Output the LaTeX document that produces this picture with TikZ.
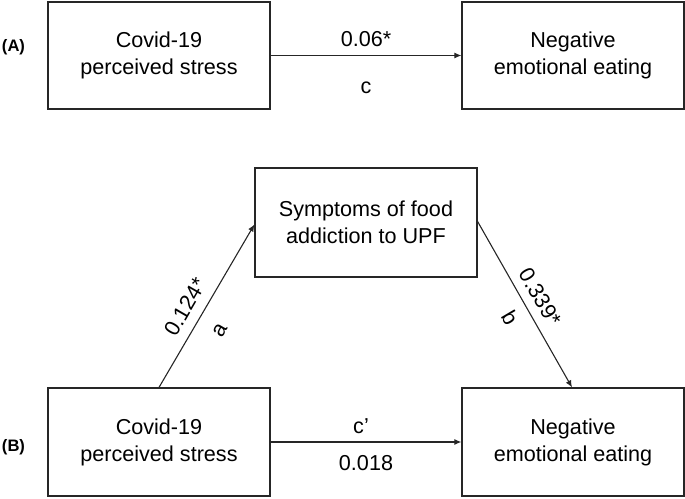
\documentclass[tikz,border=0pt]{standalone}
\usepackage{fontspec}
\setmainfont{Liberation Sans}
\usetikzlibrary{arrows.meta}
\begin{document}
\begin{tikzpicture}[x=1pt,y=-1pt,
  box/.style={draw=black!85, line width=1.2pt, minimum width=222pt, align=center, font=\fontsize{21.6}{27}\selectfont, inner sep=0pt},
  lbl/.style={font=\fontsize{21.6}{26}\selectfont, inner sep=0pt},
  tag/.style={font=\fontsize{16.6}{20}\selectfont\bfseries, inner sep=0pt},
  arr/.style={draw=black!85, line width=1.1pt, -{Latex[length=7pt,width=6pt]}}]
\useasboundingbox (0,0) rectangle (685,498);
% Panel A
\node[tag] (tagA) at (13.5,47) {(A)};
\node[box, minimum height=107pt] (A1) at (159,55.5) {Covid-19\\perceived stress};
\node[box, minimum height=107pt] (A2) at (573,55.5) {Negative\\emotional eating};
\draw[arr] (A1.east) -- (A2.west);
\node[lbl, anchor=base] (cA) at (366,46) {0.06*};
\node[lbl, anchor=base] (cAl) at (366,93) {c};
% Panel B
\node[tag] (tagB) at (13.5,447) {(B)};
\node[box, minimum height=109pt] (M) at (366,222.5) {Symptoms of food\\addiction to UPF};
\node[box, minimum height=108pt] (B1) at (159,442) {Covid-19\\perceived stress};
\node[box, minimum height=108pt] (B2) at (573,442) {Negative\\emotional eating};
\draw[arr] (B1.north) -- ([yshift=-2pt]M.west);
\draw[arr] ([yshift=1pt]M.east) -- ([xshift=-1pt]B2.north);
\draw[arr] (B1.east) -- (B2.west);
\node[lbl, anchor=base] (cpl) at (361,433) {c’};
\node[lbl, anchor=base] (cp) at (366,470) {0.018};
\node[lbl, rotate=60] (aval) at (185,307) {0.124*};
\node[lbl, rotate=60] (alab) at (220,330) {a};
\node[lbl, rotate=-59.5] (bval) at (540,297) {0.339*};
\node[lbl, rotate=-59.5] (blab) at (510,318) {b};
\end{tikzpicture}
\end{document}
